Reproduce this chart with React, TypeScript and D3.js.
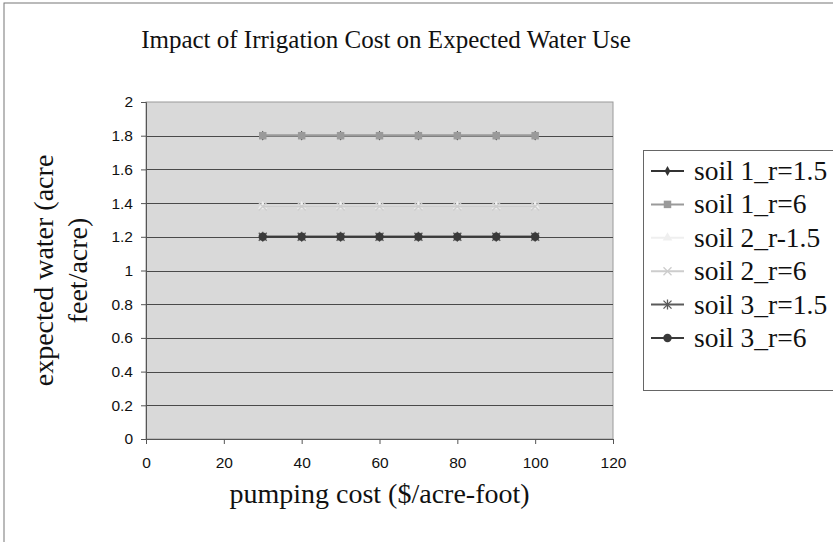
import { FC, useEffect, useRef } from 'react';
import * as d3 from 'd3';

const pumpingCost = [30, 40, 50, 60, 70, 80, 90, 100];
const soil1R15 = [1.8, 1.8, 1.8, 1.8, 1.8, 1.8, 1.8, 1.8];
const soil1R6 = [1.8, 1.8, 1.8, 1.8, 1.8, 1.8, 1.8, 1.8];
const soil2R15 = [1.38, 1.38, 1.38, 1.38, 1.38, 1.38, 1.38, 1.38];
const soil2R6 = [1.38, 1.38, 1.38, 1.38, 1.38, 1.38, 1.38, 1.38];
const soil3R15 = [1.2, 1.2, 1.2, 1.2, 1.2, 1.2, 1.2, 1.2];
const soil3R6 = [1.2, 1.2, 1.2, 1.2, 1.2, 1.2, 1.2, 1.2];
const seriesNames = ['soil 1_r=1.5', 'soil 1_r=6', 'soil 2_r-1.5', 'soil 2_r=6', 'soil 3_r=1.5', 'soil 3_r=6'];
const xTicks = [0, 20, 40, 60, 80, 100, 120];
const yTicks = [0, 0.2, 0.4, 0.6, 0.8, 1, 1.2, 1.4, 1.6, 1.8, 2];

type Marker = 'diamond' | 'square' | 'triangle' | 'x' | 'star' | 'circle';

const seriesStyle: { color: string; marker: Marker }[] = [
  { color: '#333333', marker: 'diamond' },
  { color: '#9a9a9a', marker: 'square' },
  { color: '#efefef', marker: 'triangle' },
  { color: '#cdcdcd', marker: 'x' },
  { color: '#5a5a5a', marker: 'star' },
  { color: '#3a3a3a', marker: 'circle' },
];

const serif = '"Liberation Serif", "DejaVu Serif", serif';
const sans = '"Liberation Sans", Arial, sans-serif';

const drawMarker = (
  g: d3.Selection<SVGGElement, unknown, null, undefined>,
  marker: Marker,
  color: string,
  cx: number,
  cy: number
) => {
  const sym = (type: d3.SymbolType, size: number) =>
    g.append('path')
      .attr('d', d3.symbol(type, size)())
      .attr('transform', `translate(${cx},${cy})`)
      .attr('fill', color);
  switch (marker) {
    case 'diamond': sym(d3.symbolDiamond, 28); break;
    case 'square': sym(d3.symbolSquare, 56); break;
    case 'triangle': sym(d3.symbolTriangle, 40); break;
    case 'circle': sym(d3.symbolCircle, 56); break;
    case 'x':
      g.append('path')
        .attr('d', `M${cx - 4},${cy - 4}L${cx + 4},${cy + 4}M${cx - 4},${cy + 4}L${cx + 4},${cy - 4}`)
        .attr('stroke', color).attr('stroke-width', 1.3).attr('fill', 'none');
      break;
    case 'star':
      g.append('path')
        .attr('d', `M${cx - 4},${cy - 4}L${cx + 4},${cy + 4}M${cx - 4},${cy + 4}L${cx + 4},${cy - 4}M${cx},${cy - 5}L${cx},${cy + 5}`)
        .attr('stroke', color).attr('stroke-width', 1.3).attr('fill', 'none');
      break;
  }
};

const App: FC = () => {
  const svgRef = useRef<SVGSVGElement>(null);

  useEffect(() => {
    if (!svgRef.current) return;
    const svg = d3.select(svgRef.current);
    svg.selectAll('*').remove();

    const plot = { left: 146, right: 613, top: 102, bottom: 439 };

    const x = d3.scaleLinear().domain([0, 120]).range([plot.left, plot.right]);
    const y = d3.scaleLinear().domain([0, 2]).range([plot.bottom, plot.top]);

    // outer chart border
    svg.append('rect')
      .attr('x', 4).attr('y', 3).attr('width', 900).attr('height', 600)
      .attr('fill', '#fff').attr('stroke', '#777').attr('stroke-width', 1);

    // title
    svg.append('text')
      .attr('x', 386).attr('y', 48)
      .attr('text-anchor', 'middle')
      .attr('font-family', serif).attr('font-size', 25)
      .attr('fill', '#111')
      .text('Impact of Irrigation Cost on Expected Water Use');

    // plot area
    svg.append('rect')
      .attr('x', plot.left).attr('y', plot.top)
      .attr('width', plot.right - plot.left).attr('height', plot.bottom - plot.top)
      .attr('fill', '#d9d9d9').attr('stroke', '#9a9a9a');

    // gridlines
    svg.append('g')
      .selectAll('line')
      .data(yTicks.filter(t => t > 0 && t < 2))
      .enter()
      .append('line')
      .attr('x1', plot.left).attr('x2', plot.right)
      .attr('y1', d => Math.round(y(d)) + 0.5).attr('y2', d => Math.round(y(d)) + 0.5)
      .attr('stroke', '#4a4a4a').attr('stroke-width', 1);

    // y axis
    const yAxis = svg.append('g')
      .attr('transform', `translate(${plot.left},0)`)
      .call(d3.axisLeft(y).tickValues(yTicks).tickSize(5).tickPadding(8).tickFormat(d => String(d)));
    yAxis.select('.domain').attr('stroke', '#555');
    yAxis.selectAll('line').attr('stroke', '#555');
    yAxis.selectAll('text').attr('font-family', sans).attr('font-size', 15.5).attr('fill', '#111');

    // x axis
    const xAxis = svg.append('g')
      .attr('transform', `translate(0,${plot.bottom})`)
      .call(d3.axisBottom(x).tickValues(xTicks).tickSize(5).tickPadding(13).tickFormat(d => String(d)));
    xAxis.select('.domain').attr('stroke', '#555');
    xAxis.selectAll('line').attr('stroke', '#555');
    xAxis.selectAll('text').attr('font-family', sans).attr('font-size', 15.5).attr('fill', '#111');

    // axis titles
    svg.append('text')
      .attr('x', (plot.left + plot.right) / 2).attr('y', 503)
      .attr('text-anchor', 'middle')
      .attr('font-family', serif).attr('font-size', 28)
      .attr('fill', '#111')
      .text('pumping cost ($/acre-foot)');

    const yLabel = svg.append('text')
      .attr('transform', `translate(53,${(plot.top + plot.bottom) / 2}) rotate(-90)`)
      .attr('text-anchor', 'middle')
      .attr('font-family', serif).attr('font-size', 28)
      .attr('fill', '#111');
    yLabel.append('tspan').attr('x', 0).attr('dy', 0).text('expected water (acre');
    yLabel.append('tspan').attr('x', 0).attr('dy', 34).text('feet/acre)');

    // series
    const allSeries = [soil1R15, soil1R6, soil2R15, soil2R6, soil3R15, soil3R6];
    const line = d3.line<number>()
      .x((_, i) => x(pumpingCost[i]))
      .y(d => y(d));

    allSeries.forEach((values, s) => {
      const { color, marker } = seriesStyle[s];
      const g = svg.append('g');
      g.append('path')
        .datum(values)
        .attr('fill', 'none')
        .attr('stroke', color)
        .attr('stroke-width', 2)
        .attr('d', line);
      values.forEach((v, i) => drawMarker(g, marker, color, x(pumpingCost[i]), y(v)));
    });

    // legend
    const legend = svg.append('g');
    legend.append('rect')
      .attr('x', 643.5).attr('y', 150.5).attr('width', 220).attr('height', 240)
      .attr('fill', '#fff').attr('stroke', '#666');
    const legendY = d3.scaleLinear().domain([0, 5]).range([171, 338]);
    seriesNames.forEach((name, s) => {
      const { color, marker } = seriesStyle[s];
      const ly = legendY(s);
      const g = legend.append('g');
      g.append('line')
        .attr('x1', 651).attr('x2', 684).attr('y1', ly).attr('y2', ly)
        .attr('stroke', color).attr('stroke-width', 2);
      drawMarker(g, marker, color, 667.5, ly);
      g.append('text')
        .attr('x', 694).attr('y', ly + 9)
        .attr('font-family', serif).attr('font-size', 27.5)
        .attr('fill', '#111')
        .text(name);
    });
  }, []);

  return (
    <div style={{ position: 'absolute', left: 0, top: 0 }}>
      <svg ref={svgRef} width={833} height={542} style={{ display: 'block' }} />
    </div>
  );
};

export default App;
